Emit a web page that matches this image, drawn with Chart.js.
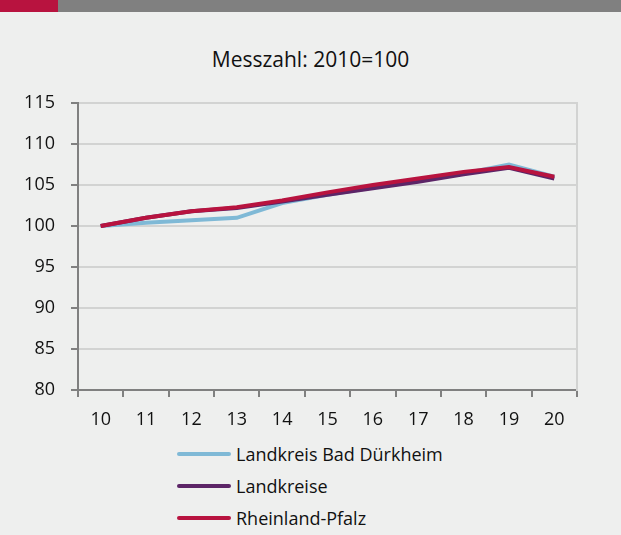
<!DOCTYPE html>
<html>
<head>
<meta charset="utf-8">
<script src="https://cdn.jsdelivr.net/npm/chart.js@4"></script>
<style>
  html, body { margin: 0; padding: 0; }
  body { width: 621px; height: 535px; background: #eeefee; position: relative; overflow: hidden;
         font-family: "Open Sans", sans-serif; color: #111; }
  #bar { position: absolute; left: 0; top: 0; width: 621px; height: 12px; background: #808080; }
  #bar i { position: absolute; left: 0; top: 0; width: 58px; height: 12px; background: #b8133f; }
  #title { position: absolute; left: 0; width: 621px; top: 45px; text-align: center; font-size: 21px; }
  #wrap { position: absolute; left: 0; top: 0; width: 621px; height: 432px; }
  #legend { position: absolute; left: 177px; top: 438px; }
  .row { height: 32px; display: flex; align-items: center; font-size: 18px; }
  .row span { display: inline-block; width: 54px; height: 4px; border-radius: 2px; margin-right: 5px; }
</style>
</head>
<body>
<div id="bar"><i></i></div>
<div id="title">Messzahl: 2010=100</div>
<div id="wrap"><canvas id="c"></canvas></div>
<div id="legend"></div>
<script>
// ---- data -------------------------------------------------------------------
const YEARS       = ['10', '11', '12', '13', '14', '15', '16', '17', '18', '19', '20'];
const BAD_DUERK   = [100, 100.4, 100.7, 101.0, 102.8, 103.8, 104.7, 105.5, 106.4, 107.5, 106.0];
const LANDKREISE  = [100, 101.0, 101.8, 102.2, 103.0, 103.8, 104.6, 105.4, 106.3, 107.1, 105.8];
const RLP         = [100, 101.0, 101.8, 102.3, 103.1, 104.1, 105.0, 105.8, 106.6, 107.2, 106.0];
const SERIES_NAMES = ['Landkreis Bad Dürkheim', 'Landkreise', 'Rheinland-Pfalz'];
const COLORS       = ['#7fb9d6', '#5c2567', '#b8133f'];

const FONT = { family: '"Open Sans", sans-serif', size: 18 };

const ds = [BAD_DUERK, LANDKREISE, RLP].map((d, i) => ({
  label: SERIES_NAMES[i],
  data: d,
  borderColor: COLORS[i],
  borderWidth: 4,
  pointRadius: 0,
  tension: 0,
  order: 3 - i,
}));

new Chart(document.getElementById('c'), {
  type: 'line',
  data: { labels: YEARS, datasets: ds },
  options: {
    responsive: true,
    maintainAspectRatio: false,
    animation: false,
    layout: { padding: { top: 103, right: 44, left: 0, bottom: 0 } },
    plugins: { legend: { display: false }, tooltip: { enabled: false } },
    scales: {
      x: {
        offset: true,
        grid: { offset: true, drawOnChartArea: false, tickLength: 7, tickColor: '#808080', lineWidth: 2 },
        border: { color: '#808080', width: 2 },
        ticks: { color: '#111', font: FONT, padding: 12 },
        afterFit: s => { s.height = 42; },
      },
      y: {
        min: 80, max: 115,
        ticks: { stepSize: 5, color: '#111', font: FONT, padding: 16 },
        grid: { color: '#d2d3d2', lineWidth: 2, tickLength: 7, tickColor: '#808080' },
        border: { color: '#808080', width: 2 },
        afterFit: s => { s.width = 78; },
      },
      yr: {
        position: 'right', min: 80, max: 115,
        ticks: { display: false },
        grid: { drawOnChartArea: false, drawTicks: false },
        border: { color: '#d2d3d2', width: 2 },
        afterFit: s => { s.width = 0; },
      },
    },
  },
});

// HTML legend, one row per series
const leg = document.getElementById('legend');
SERIES_NAMES.forEach((n, i) => {
  const r = document.createElement('div');
  r.className = 'row';
  r.innerHTML = '<span style="background:' + COLORS[i] + '"></span>' + n;
  leg.appendChild(r);
});
</script>
</body>
</html>
